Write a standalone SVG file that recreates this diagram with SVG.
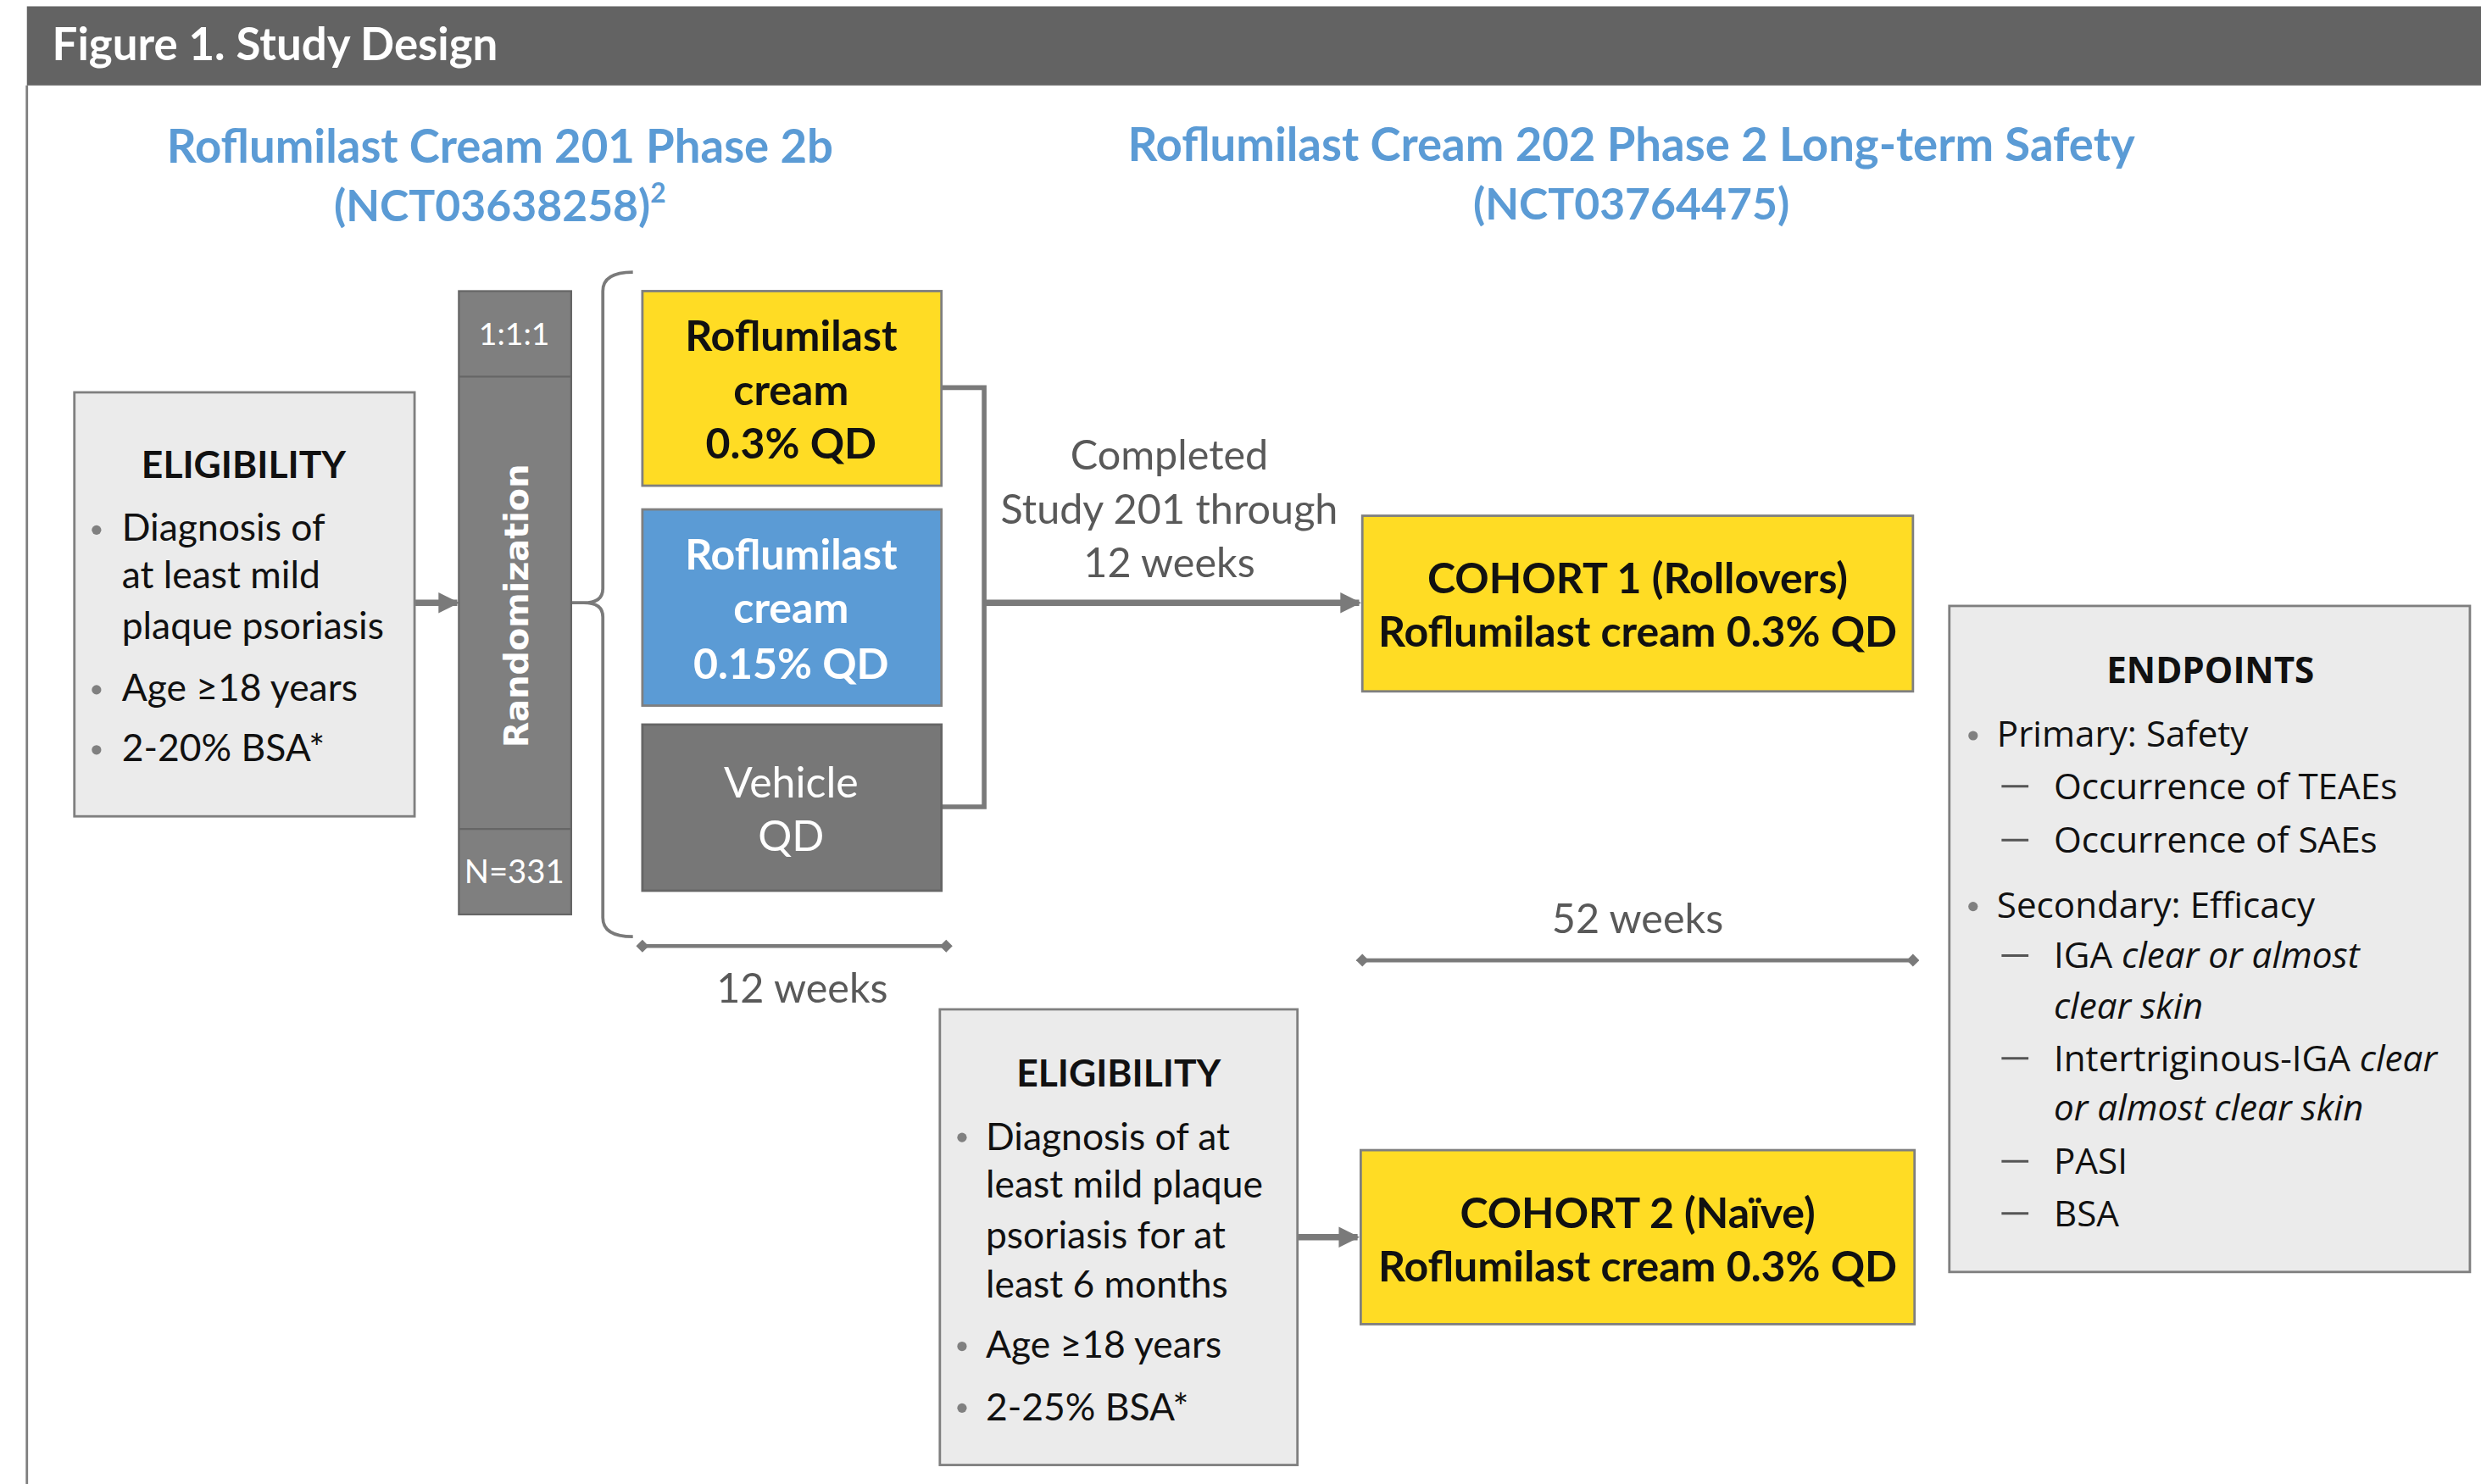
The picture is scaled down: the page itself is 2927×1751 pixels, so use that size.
<svg xmlns="http://www.w3.org/2000/svg" width="2927" height="1751" viewBox="0 0 2927 1751">
<defs>
<style>
.cal{font-family:Lato,"Open Sans","Liberation Sans",sans-serif}
.b{font-weight:bold}
.hd{font-family:Lato,"Liberation Sans",sans-serif;font-weight:bold;fill:#5B9BD5;font-size:29.2px;text-anchor:middle}
.nct{font-size:27.7px}
.body{font-family:Lato,"Liberation Sans",sans-serif;font-size:23.8px;fill:#111}
.lbl{font-family:Lato,"Liberation Sans",sans-serif;font-size:26px;fill:#595959;text-anchor:middle}
.box{font-family:Lato,"Liberation Sans",sans-serif;font-size:26.8px;font-weight:bold;fill:#111;text-anchor:middle}
.ep{font-family:"Open Sans","Noto Sans",sans-serif;font-size:22.6px;fill:#111}
.it{font-style:italic}
.elig{fill:#EBEBEB;stroke:#7F7F7F;stroke-width:1.5}
.yel{fill:#FFDC24;stroke:#7F7F7F;stroke-width:1.5}
.dot{fill:#808080}
.dash{stroke:#555;stroke-width:1.6}
.conn{fill:none;stroke:#7A7A7A;stroke-width:3}
.thick{fill:none;stroke:#7A7A7A;stroke-width:4}
.tl{fill:none;stroke:#7A7A7A;stroke-width:2.5}
</style>
<marker id="ah" viewBox="0 0 10 10" refX="9" refY="5" markerWidth="3.3" markerHeight="4" orient="auto" markerUnits="strokeWidth">
<path d="M0,0 L10,5 L0,10 z" fill="#7A7A7A"/>
</marker>
<marker id="dm" viewBox="0 0 10 10" refX="5" refY="5" markerWidth="3.2" markerHeight="4" orient="auto" markerUnits="strokeWidth">
<path d="M0,5 L5,0 L10,5 L5,10 z" fill="#7A7A7A"/>
</marker>
</defs>
<rect width="2927" height="1751" fill="#ffffff"/>
<g transform="scale(1.8667)">
<g id="frame">
<rect x="17" y="4" width="1560" height="50" fill="#636363"/>
<line x1="17" y1="54" x2="17" y2="940" stroke="#7F7F7F" stroke-width="1.5"/>
<text x="33" y="38" class="cal b" font-size="28.3" fill="#ffffff">Figure 1. Study Design</text>
</g>
<g id="heading-201">
<text x="316" y="103" class="hd">Roflumilast Cream 201 Phase 2b</text>
<text x="316" y="140" class="hd nct">(NCT03638258)<tspan font-size="17" dy="-12">2</tspan></text>
</g>
<g id="heading-202">
<text x="1031" y="102" class="hd">Roflumilast Cream 202 Phase 2 Long-term Safety</text>
<text x="1031" y="139" class="hd nct">(NCT03764475)</text>
</g>
<g id="connectors">
<line x1="262" y1="381" x2="289" y2="381" class="thick" marker-end="url(#ah)"/>
<path d="M400,172 Q381,172 381,184 V372 Q381,381 369,381 H361 M369,381 Q381,381 381,390 V580 Q381,592 400,592" fill="none" stroke="#7A7A7A" stroke-width="2"/>
<path d="M595,245 H622 V510 H595" class="conn"/>
<line x1="622" y1="381" x2="859" y2="381" class="thick" marker-end="url(#ah)"/>
<line x1="820" y1="782" x2="858" y2="782" class="thick" marker-end="url(#ah)"/>
<line x1="406" y1="598" x2="598" y2="598" class="tl" marker-start="url(#dm)" marker-end="url(#dm)"/>
<line x1="861" y1="607" x2="1209" y2="607" class="tl" marker-start="url(#dm)" marker-end="url(#dm)"/>
</g>
<g id="label-completed">
<text x="739" y="297" class="lbl">Completed</text>
<text x="739" y="331" class="lbl">Study 201 through</text>
<text x="739" y="365" class="lbl">12 weeks</text>
</g>
<g id="label-12weeks"><text x="507" y="634" class="lbl">12 weeks</text></g>
<g id="label-52weeks"><text x="1035" y="590" class="lbl">52 weeks</text></g>
<g id="eligibility-1">
<rect x="47" y="248" width="215" height="268" class="elig"/>
<text x="154" y="302" class="body b" font-size="27.5" text-anchor="middle">ELIGIBILITY</text>
<circle cx="61" cy="335" r="3" class="dot"/>
<text x="77" y="342" class="body">Diagnosis of</text>
<text x="77" y="372" class="body">at least mild</text>
<text x="77" y="404" class="body">plaque psoriasis</text>
<circle cx="61" cy="436" r="3" class="dot"/>
<text x="77" y="443" class="body">Age ≥18 years</text>
<circle cx="61" cy="474" r="3" class="dot"/>
<text x="77" y="481" class="body">2-20% BSA*</text>
</g>
<g id="randomization">
<rect x="290" y="184" width="71" height="394" fill="#7F7F7F" stroke="#666" stroke-width="1.2"/>
<line x1="290" y1="238" x2="361" y2="238" stroke="#666" stroke-width="1.2"/>
<line x1="290" y1="524" x2="361" y2="524" stroke="#666" stroke-width="1.2"/>
<text x="325" y="218" class="cal" font-size="20" fill="#ffffff" text-anchor="middle">1:1:1</text>
<text x="325" y="558" class="cal" font-size="20.5" fill="#ffffff" text-anchor="middle">N=331</text>
<text x="0" y="0" transform="translate(334,383) rotate(-90)" font-family="'DejaVu Sans',Verdana,sans-serif" font-weight="bold" font-size="21.3" fill="#ffffff" text-anchor="middle">Randomization</text>
</g>
<g id="arm-03">
<rect x="406" y="184" width="189" height="123" class="yel"/>
<text x="500" y="222" class="box">Roflumilast</text>
<text x="500" y="256" class="box">cream</text>
<text x="500" y="290" class="box">0.3% QD</text>
</g>
<g id="arm-015">
<rect x="406" y="322" width="189" height="124" fill="#5B9BD5" stroke="#7F7F7F" stroke-width="1.5"/>
<text x="500" y="360" class="box" style="fill:#ffffff">Roflumilast</text>
<text x="500" y="394" class="box" style="fill:#ffffff">cream</text>
<text x="500" y="429" class="box" style="fill:#ffffff">0.15% QD</text>
</g>
<g id="arm-vehicle">
<rect x="406" y="458" width="189" height="105" fill="#777777" stroke="#666" stroke-width="1.5"/>
<text x="500" y="504" class="box" style="fill:#ffffff;font-weight:normal">Vehicle</text>
<text x="500" y="538" class="box" style="fill:#ffffff;font-weight:normal">QD</text>
</g>
<g id="cohort-1">
<rect x="861" y="326" width="348" height="111" class="yel"/>
<text x="1035" y="375" class="box">COHORT 1 (Rollovers)</text>
<text x="1035" y="409" class="box">Roflumilast cream 0.3% QD</text>
</g>
<g id="eligibility-2">
<rect x="594" y="638" width="226" height="288" class="elig"/>
<text x="707" y="687" class="body b" font-size="27.5" text-anchor="middle">ELIGIBILITY</text>
<circle cx="608" cy="719" r="3" class="dot"/>
<text x="623" y="727" class="body">Diagnosis of at</text>
<text x="623" y="757" class="body">least mild plaque</text>
<text x="623" y="789" class="body">psoriasis for at</text>
<text x="623" y="820" class="body">least 6 months</text>
<circle cx="608" cy="851" r="3" class="dot"/>
<text x="623" y="858" class="body">Age ≥18 years</text>
<circle cx="608" cy="890" r="3" class="dot"/>
<text x="623" y="898" class="body">2-25% BSA*</text>
</g>
<g id="cohort-2">
<rect x="860" y="727" width="350" height="110" class="yel"/>
<text x="1035" y="776" class="box">COHORT 2 (Naïve)</text>
<text x="1035" y="810" class="box">Roflumilast cream 0.3% QD</text>
</g>
<g id="endpoints">
<rect x="1232" y="383" width="329" height="421" class="elig"/>
<text x="1397" y="432" class="ep b" font-size="25.5" text-anchor="middle">ENDPOINTS</text>
<circle cx="1247" cy="465" r="3" class="dot"/>
<text x="1262" y="472" class="ep">Primary: Safety</text>
<line x1="1265" y1="497" x2="1282" y2="497" class="dash"/>
<text x="1298" y="505" class="ep">Occurrence of TEAEs</text>
<line x1="1265" y1="531" x2="1282" y2="531" class="dash"/>
<text x="1298" y="539" class="ep">Occurrence of SAEs</text>
<circle cx="1247" cy="573" r="3" class="dot"/>
<text x="1262" y="580" class="ep">Secondary: Efficacy</text>
<line x1="1265" y1="604" x2="1282" y2="604" class="dash"/>
<text x="1298" y="612" class="ep">IGA <tspan class="it">clear or almost</tspan></text>
<text x="1298" y="644" class="ep it">clear skin</text>
<line x1="1265" y1="669" x2="1282" y2="669" class="dash"/>
<text x="1298" y="677" class="ep">Intertriginous-IGA <tspan class="it">clear</tspan></text>
<text x="1298" y="708" class="ep it">or almost clear skin</text>
<line x1="1265" y1="734" x2="1282" y2="734" class="dash"/>
<text x="1298" y="742" class="ep">PASI</text>
<line x1="1265" y1="767" x2="1282" y2="767" class="dash"/>
<text x="1298" y="775" class="ep">BSA</text>
</g>
</g>
</svg>
